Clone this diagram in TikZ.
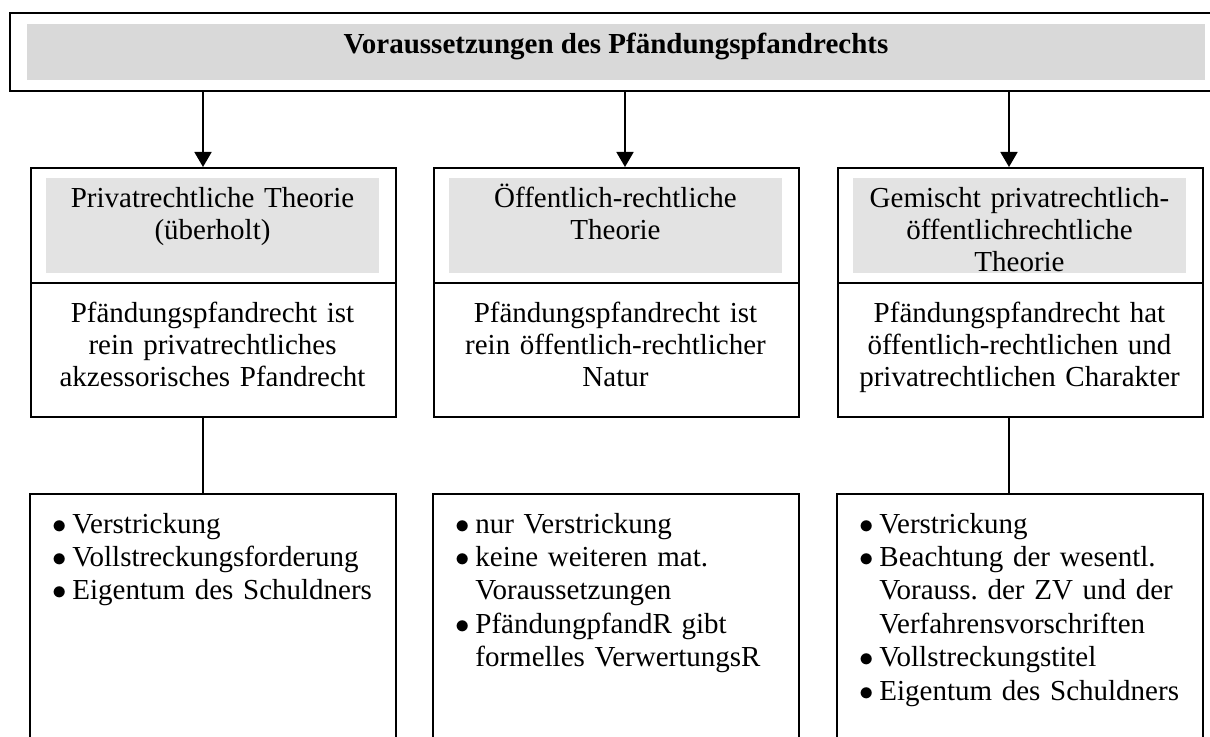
\documentclass[tikz,border=0pt]{standalone}
\usepackage{fontspec}
\setmainfont{Liberation Serif}
\usetikzlibrary{arrows.meta}
\usetikzlibrary{positioning}
\definecolor{titlegray}{RGB}{217, 217, 217}
\definecolor{headgray}{RGB}{227, 227, 227}
\newcommand{\pitem}[1]{\hangindent=10pt\hangafter=1\noindent\makebox[10pt][l]{$\bullet$}#1\par}

\begin{document}
\begin{tikzpicture}[x=0.5pt, y=-0.5pt,
        every node/.style = {font=\fontsize{14.5pt}{16.7pt}\selectfont\frenchspacing},
        box/.style = {draw=black, line width=0.9pt, minimum width=182.5pt, inner sep=0pt, anchor=north west},
        grayfill/.style = {fill=headgray, minimum width=166.5pt, minimum height=47.5pt, inner sep=0pt, anchor=north west},
        headtext/.style = {anchor=base, align=center, text width=175pt, inner sep=0pt,
            font=\fontsize{14.5pt}{16pt}\selectfont\frenchspacing},
        listtext/.style = {anchor=base west, align=left, text width=172pt, inner sep=0pt},
        arr/.style = {line width=0.9pt, -{Triangle[width=8.5pt, length=7.5pt]}},
        link/.style = {line width=0.9pt}]
        \useasboundingbox (0,0) rectangle (1210,737);
        % title box, open on the right
        \node[minimum width=600pt, minimum height=38.5pt, inner sep=0pt, anchor=north west] (top) at (10,13) {};
        \draw[link] (top.north east) -- (top.north west) -- (top.south west) -- (top.south east);
        \node[fill=titlegray, minimum width=589pt, minimum height=28pt, inner sep=0pt, anchor=north west] (topfill) at (27,24) {};
        \node[anchor=base, font=\fontsize{14.5pt}{16.7pt}\selectfont\bfseries] (title) at (616,54) {Voraussetzungen des Pfändungspfandrechts};
        % columns
        \coordinate (c1) at (203,0);
        \coordinate (c2) at (625,0);
        \coordinate (c3) at (1009,0);
        \node[box, minimum height=57.5pt] (head1) at (30,167) {};
        \node[box, minimum height=57.5pt] (head2) at (433,167) {};
        \node[box, minimum height=57.5pt] (head3) at (837,167) {};
        \node[grayfill] (fill1) at (46,178) {};
        \node[grayfill] (fill2) at (449,178) {};
        \node[grayfill] (fill3) at (853,178) {};
        \node[headtext] (htext1) at (212.5,208) {Privatrechtliche Theorie\\(überholt)};
        \node[headtext] (htext2) at (615.5,208) {Öffentlich-rechtliche\\Theorie};
        \node[headtext] (htext3) at (1019.5,208) {Gemischt privatrechtlich-\\öffentlichrechtliche\\Theorie};
        \node[box, minimum height=67pt] (mid1) at (30,282) {};
        \node[box, minimum height=67pt] (mid2) at (433,282) {};
        \node[box, minimum height=67pt] (mid3) at (837,282) {};
        \node[headtext] (mtext1) at (212.5,323) {Pfändungspfandrecht ist\\rein privatrechtliches\\akzessorisches Pfandrecht};
        \node[headtext] (mtext2) at (615.5,323) {Pfändungspfandrecht ist\\rein öffentlich-rechtlicher\\Natur};
        \node[headtext] (mtext3) at (1019.5,323) {Pfändungspfandrecht hat\\öffentlich-rechtlichen und\\privatrechtlichen Charakter};
        % bottom boxes, open at the foot
        \node[minimum width=182.5pt, minimum height=121.5pt, inner sep=0pt, anchor=north west] (list1) at (30,494) {};
        \node[minimum width=182.5pt, minimum height=121.5pt, inner sep=0pt, anchor=north west] (list2) at (433,494) {};
        \node[minimum width=182.5pt, minimum height=121.5pt, inner sep=0pt, anchor=north west] (list3) at (837,494) {};
        \foreach \n in {list1,list2,list3}
            \draw[link] (\n.south west) -- (\n.north west) -- (\n.north east) -- (\n.south east);
        \node[listtext] (ltext1) at (52,533) {\pitem{Verstrickung}\pitem{Vollstreckungsforderung}\pitem{Eigentum des Schuldners}};
        \node[listtext] (ltext2) at (455,533) {\pitem{nur Verstrickung}\pitem{keine weiteren mat.\newline Voraussetzungen}\pitem{PfändungpfandR gibt\newline formelles VerwertungsR}};
        \node[listtext] (ltext3) at (859,533) {\pitem{Verstrickung}\pitem{Beachtung der wesentl.\newline Vorauss. der ZV und der\newline Verfahrensvorschriften}\pitem{Vollstreckungstitel}\pitem{Eigentum des Schuldners}};
        % connectors
        \draw[arr] (top.south -| c1) -- (head1.north -| c1);
        \draw[arr] (top.south -| c2) -- (head2.north -| c2);
        \draw[arr] (top.south -| c3) -- (head3.north -| c3);
        \draw[link] (mid1.south -| c1) -- (list1.north -| c1);
        \draw[link] (mid3.south -| c3) -- (list3.north -| c3);
\end{tikzpicture}
\end{document}
